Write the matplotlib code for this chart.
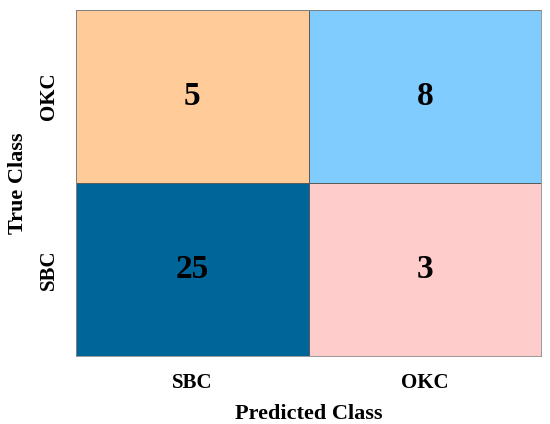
import numpy as np
import matplotlib
matplotlib.use('Agg')
import matplotlib.pyplot as plt
from matplotlib.colors import ListedColormap

true_classes = ['OKC', 'SBC']        # rows, top to bottom
pred_classes = ['SBC', 'OKC']        # columns, left to right
counts = [[5, 8],
          [25, 3]]
cell_colors = ['#FFCC99', '#80CCFF', '#006699', '#FFCCCC']

plt.rcParams['font.family'] = ['Liberation Serif', 'DejaVu Serif']

fig = plt.figure(figsize=(5.5, 4.24), dpi=100)
ax = fig.add_axes([0.138, 0.160, 0.846, 0.816])

idx = np.arange(4).reshape(2, 2)
ax.pcolormesh(idx, cmap=ListedColormap(cell_colors), edgecolors='#5a5a5a',
              linewidth=0.6, vmin=-0.5, vmax=3.5)
ax.set_ylim(2, 0)
ax.set_xlim(0, 2)

for i in range(2):
    for j in range(2):
        ax.text(j + 0.5, i + 0.5, str(counts[i][j]), ha='center', va='center',
                fontsize=24, fontweight='bold', color='black')

ax.set_xticks([0.5, 1.5])
ax.set_xticklabels(pred_classes, fontsize=15, fontweight='bold')
ax.set_yticks([0.5, 1.5])
ax.set_yticklabels(true_classes, fontsize=15, fontweight='bold', rotation=90, va='center')
ax.tick_params(length=0, pad=12)
ax.set_xlabel('Predicted Class', fontsize=16, fontweight='bold', labelpad=8)
ax.set_ylabel('True Class', fontsize=16, fontweight='bold', labelpad=8)
for s in ax.spines.values():
    s.set_color('#888888')
    s.set_linewidth(0.6)

plt.savefig('out.png', dpi=100)
